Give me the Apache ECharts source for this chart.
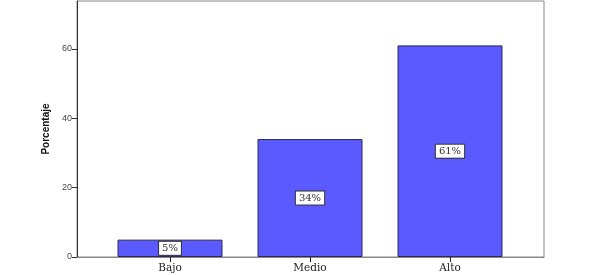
<!DOCTYPE html>
<html><head><meta charset="utf-8">
<script src="https://cdn.jsdelivr.net/npm/echarts@6/dist/echarts.min.js"></script>
<style>html,body{margin:0;padding:0;background:#fff}#c{width:601px;height:275px}</style>
</head><body><div id="c"></div>
<script>
const categories = ['Bajo', 'Medio', 'Alto'];
const percentages = [5, 34, 61];
const yTicks = [0, 20, 40, 60];
const yMax = 73.8;

const chart = echarts.init(document.getElementById('c'), null, {renderer: 'canvas'});
chart.setOption({
  animation: false,
  backgroundColor: '#fff',
  grid: [
    {left: 77, right: 57, top: 1, bottom: 18, show: true, borderColor: '#888', borderWidth: 1, backgroundColor: 'transparent'},
    {left: 100, width: 420, top: 1, bottom: 18}
  ],
  xAxis: [
    {gridIndex: 0, type: 'value', min: 0, max: 1, show: true,
     axisLine: {show: true, lineStyle: {color: '#888', width: 1}}, axisTick: {show: false}, axisLabel: {show: false}, splitLine: {show: false}},
    {gridIndex: 1, type: 'category', data: categories,
     axisLine: {show: false},
     axisTick: {show: true, alignWithLabel: true, length: 5, lineStyle: {color: '#222'}},
     axisLabel: {color: '#222', fontFamily: 'DejaVu Serif', fontSize: 10.5, margin: 6}}
  ],
  yAxis: [
    {gridIndex: 0, type: 'value', min: 0, max: yMax, interval: 20,
     name: 'Porcentaje', nameLocation: 'middle', nameGap: 22,
     nameTextStyle: {fontFamily: 'Liberation Sans', fontWeight: 'bold', fontSize: 10, color: '#111'},
     axisLine: {show: true, lineStyle: {color: '#333', width: 1}},
     axisTick: {show: true, length: 5, customValues: yTicks, lineStyle: {color: '#333'}},
     axisLabel: {color: '#444', fontFamily: 'Liberation Sans', fontSize: 9, margin: 5,
       customValues: yTicks, formatter: v => String(v)},
     splitLine: {show: false}},
    {gridIndex: 1, type: 'value', min: 0, max: yMax, show: false}
  ],
  series: [{
    type: 'bar', xAxisIndex: 1, yAxisIndex: 1,
    data: percentages, barWidth: '75%',
    itemStyle: {color: '#5a5aff', borderColor: '#2a2a55', borderWidth: 1},
    label: {show: true, position: 'inside', formatter: p => p.value + '%',
      color: '#333', fontFamily: 'DejaVu Serif', fontSize: 10,
      backgroundColor: '#fff', borderColor: '#333', borderWidth: 1, padding: [2, 3, 1, 3]}
  }]
});
</script></body></html>
